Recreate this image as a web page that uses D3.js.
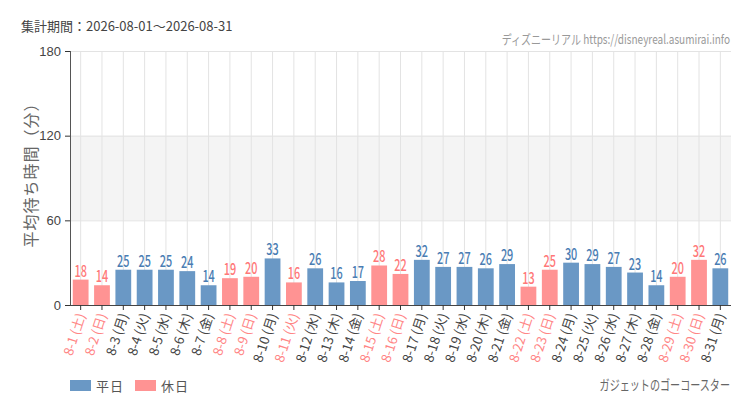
<!DOCTYPE html>
<html>
<head>
<meta charset="utf-8">
<script src="https://cdn.jsdelivr.net/npm/d3@7"></script>
<style>
  body { margin: 0; background: #fff; }
  text { font-family: "Noto Sans CJK JP", "Noto Sans", sans-serif; }
</style>
</head>
<body>
<svg id="chart" width="750" height="410"></svg>
<script>
// 集計データ
const days = d3.range(1, 32).map((d) => `8-${d}`);
const weekdays = ["土", "日", "月", "火", "水", "木", "金"];
const waitTimes = [18, 14, 25, 25, 25, 24, 14, 19, 20, 33, 16, 26, 16, 17, 28, 22,
  32, 27, 27, 26, 29, 13, 25, 30, 29, 27, 23, 14, 20, 32, 26];
const holidays = [1, 2, 8, 9, 11, 15, 16, 22, 23, 29, 30];
const yTicks = [0, 60, 120, 180];
const band = [60, 120];

const colors = { weekday: "#6a98c5", holiday: "#ff9393" };
const labelColors = { weekday: "#4a7db3", holiday: "#ff7878" };
const tickColors = { weekday: "#444", holiday: "#ff8585" };

const margin = { top: 51, right: 20, bottom: 105, left: 70 };
const width = 750, height = 410;

const data = days.map((d, i) => ({
  day: d,
  label: `${d} (${weekdays[i % 7]})`,
  value: waitTimes[i],
  type: holidays.includes(i + 1) ? "holiday" : "weekday",
}));

const svg = d3.select("#chart");

const x = d3.scaleBand()
  .domain(days)
  .range([margin.left, width - margin.right + 1])
  .paddingInner(0.26)
  .paddingOuter(0.13);

const y = d3.scaleLinear()
  .domain([0, 180])
  .range([height - margin.bottom, margin.top]);

const cx = (d) => x(d) + x.bandwidth() / 2;

// band 60-120
svg.append("rect")
  .attr("x", margin.left)
  .attr("y", y(band[1]))
  .attr("width", width - margin.right + 1 - margin.left)
  .attr("height", y(band[0]) - y(band[1]))
  .attr("fill", "#f4f4f4");

// grid
svg.append("g")
  .attr("stroke", "#e3e3e3")
  .call((g) => g.selectAll("line.v")
    .data(days)
    .join("line")
    .attr("class", "v")
    .attr("x1", cx).attr("x2", cx)
    .attr("y1", y(180)).attr("y2", y(0)))
  .call((g) => g.selectAll("line.h")
    .data(yTicks.slice(1))
    .join("line")
    .attr("class", "h")
    .attr("x1", margin.left).attr("x2", width - margin.right + 1)
    .attr("y1", (d) => y(d) + 0.5).attr("y2", (d) => y(d) + 0.5));

// bars
svg.append("g")
  .selectAll("rect")
  .data(data)
  .join("rect")
  .attr("x", (d) => x(d.day))
  .attr("y", (d) => y(d.value))
  .attr("width", x.bandwidth())
  .attr("height", (d) => y(0) - y(d.value))
  .attr("fill", (d) => colors[d.type]);

// value labels (condensed)
svg.append("g")
  .attr("text-anchor", "middle")
  .attr("font-size", 16)
  .attr("font-weight", 500)
  .selectAll("text")
  .data(data)
  .join("text")
  .attr("transform", (d) => `translate(${cx(d.day)},${y(d.value) - 3}) scale(0.68,1)`)
  .attr("fill", (d) => labelColors[d.type])
  .text((d) => d.value);

// y axis
const yAxis = svg.append("g")
  .attr("transform", `translate(${margin.left},0)`)
  .call(d3.axisLeft(y).tickValues(yTicks).tickSize(5).tickPadding(4));
yAxis.select(".domain").attr("stroke", "#555").attr("d", `M0.5,${y(180)}V${y(0)}`);
yAxis.selectAll(".tick line").attr("stroke", "#333");
yAxis.selectAll(".tick text")
  .attr("fill", "#444")
  .attr("font-size", 13)
  .style("font-family", "'Liberation Sans', sans-serif");

// x axis
const xAxis = svg.append("g")
  .attr("transform", `translate(0,${y(0)})`)
  .call(d3.axisBottom(x).tickSize(5).tickFormat(""));
xAxis.select(".domain").attr("stroke", "#444").attr("d", `M${margin.left},0.5H${width - margin.right + 1}`);
xAxis.selectAll(".tick line").attr("stroke", "#333");

svg.append("g")
  .selectAll("text")
  .data(data)
  .join("text")
  .attr("text-anchor", "end")
  .attr("font-size", 13)
  .attr("fill", (d) => tickColors[d.type])
  .attr("transform", (d) => `translate(${cx(d.day) + 5},${y(0) + 10}) rotate(-72)`)
  .text((d) => d.label);

// y title
svg.append("text")
  .attr("transform", `translate(37,171) rotate(-90)`)
  .attr("text-anchor", "middle")
  .attr("font-size", 16)
  .attr("letter-spacing", 1)
  .attr("fill", "#666")
  .text("平均待ち時間（分）");

// header
svg.append("text")
  .attr("x", 21).attr("y", 31)
  .attr("font-size", 13)
  .attr("fill", "#444")
  .text("集計期間：2026-08-01～2026-08-31");

svg.append("text")
  .attr("transform", "translate(730,44) scale(0.77,1)")
  .attr("text-anchor", "end")
  .attr("font-size", 13)
  .attr("fill", "#999")
  .text("ディズニーリアル https://disneyreal.asumirai.info");

// legend
const legend = svg.append("g")
  .selectAll("g")
  .data([["平日", colors.weekday, 70], ["休日", colors.holiday, 135]])
  .join("g")
  .attr("transform", (d) => `translate(${d[2]},380)`);
legend.append("rect").attr("width", 21).attr("height", 11).attr("fill", (d) => d[1]);
legend.append("text").attr("x", 26).attr("y", 11).attr("font-size", 13)
  .attr("letter-spacing", 1).attr("fill", "#555").text((d) => d[0]);

svg.append("text")
  .attr("transform", "translate(730,390) scale(0.72,1)")
  .attr("text-anchor", "end")
  .attr("font-size", 14)
  .attr("fill", "#666")
  .text("ガジェットのゴーコースター");
</script>
</body>
</html>
